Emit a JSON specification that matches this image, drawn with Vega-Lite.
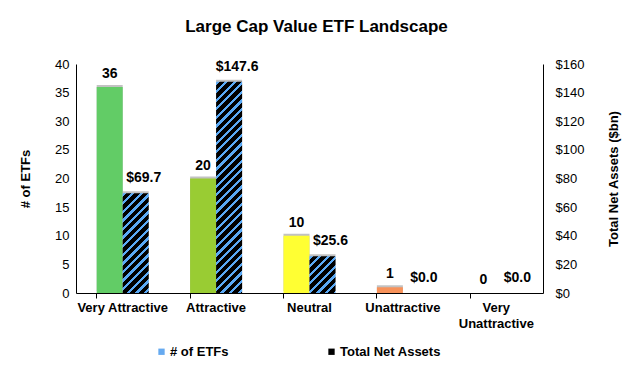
{
  "$schema": "https://vega.github.io/schema/vega-lite/v6.json",
  "width": 467,
  "height": 229,
  "autosize": "none",
  "padding": {"left": 76, "top": 64, "right": 87, "bottom": 74},
  "background": "white",
  "config": {"view": {"stroke": null}, "font": "Liberation Sans", "axis": {"grid": false}},
  "title": {"text": "Large Cap Value ETF Landscape", "font": "Liberation Sans", "fontSize": 17, "fontWeight": "bold", "color": "black", "anchor": "middle", "offset": 22, "dx": 7},
  "data": {"values": [
    {"category": "Very Attractive", "series": "# of ETFs", "value": 36},
    {"category": "Attractive", "series": "# of ETFs", "value": 20},
    {"category": "Neutral", "series": "# of ETFs", "value": 10},
    {"category": "Unattractive", "series": "# of ETFs", "value": 1},
    {"category": "Very Unattractive", "series": "# of ETFs", "value": 0},
    {"category": "Very Attractive", "series": "Total Net Assets", "value": 69.7},
    {"category": "Attractive", "series": "Total Net Assets", "value": 147.6},
    {"category": "Neutral", "series": "Total Net Assets", "value": 25.6},
    {"category": "Unattractive", "series": "Total Net Assets", "value": 0.0},
    {"category": "Very Unattractive", "series": "Total Net Assets", "value": 0.0}
  ]},
  "layer": [
    {
      "transform": [{"filter": "datum.series === '# of ETFs'"}],
      "encoding": {
        "x": {"field": "category", "type": "nominal", "sort": ["Very Attractive", "Attractive", "Neutral", "Unattractive", "Very Unattractive"], "scale": {"paddingInner": 0.443, "paddingOuter": 0.2215},
          "axis": {"title": null, "labelFont": "Liberation Sans", "labelFontWeight": "bold", "labelFontSize": 13, "labelColor": "black", "labelAngle": 0, "domainColor": "black", "tickColor": "black", "tickSize": 5, "bandPosition": 0, "labelPadding": 3, "labelLineHeight": 16, "labelLimit": 200, "labelExpr": "datum.value === 'Very Unattractive' ? ['Very', 'Unattractive'] : datum.value"}},
        "xOffset": {"field": "series", "type": "nominal", "scale": {"domain": ["# of ETFs", "Total Net Assets"], "paddingInner": 0, "paddingOuter": 0}},
        "y": {"field": "value", "type": "quantitative", "scale": {"domain": [0, 40], "nice": false},
          "axis": {"orient": "left", "title": "# of ETFs", "titleFont": "Liberation Sans", "titleFontSize": 13, "titleFontWeight": "bold", "titleColor": "black", "titlePadding": 22, "labelFont": "Liberation Sans", "labelFontSize": 13, "labelColor": "black", "values": [0, 5, 10, 15, 20, 25, 30, 35, 40], "ticks": false, "labelPadding": 7, "domainColor": "black"}}
      },
      "layer": [
        {"mark": {"type": "bar", "fill": "#9a9a9a", "opacity": 0.6, "xOffset": 3, "x2Offset": 3, "yOffset": -2}},
        {"mark": {"type": "bar", "opacity": 0},
          "encoding": {"color": {"field": "series", "type": "nominal", "scale": {"domain": ["# of ETFs", "Total Net Assets"], "range": ["#66aaf0", "#000000"]},
            "legend": {"orient": "none", "legendX": 79, "legendY": 281, "direction": "horizontal", "title": null, "symbolType": "square", "symbolSize": 40, "labelFont": "Liberation Sans", "labelFontSize": 13, "labelFontWeight": "bold", "labelColor": "black", "columnPadding": 96, "symbolOpacity": 1, "labelOffset": 2,
              "encode": {"symbols": {"update": {"opacity": {"value": 1}, "strokeWidth": {"value": 0}, "fill": [
                {"test": "datum.value === 'Total Net Assets'", "value": {"gradient": "linear", "x1": 0, "y1": 0, "x2": 1, "y2": 1, "stops": [{"offset": 0, "color": "#000000"}, {"offset": 0.55, "color": "#000000"}, {"offset": 0.55, "color": "#5aa9f5"}, {"offset": 1, "color": "#5aa9f5"}]}},
                {"value": "#66aaf0"}
              ]}}}}}}},
        {"mark": {"type": "bar"},
          "encoding": {"fill": {"field": "category", "type": "nominal", "scale": {"domain": ["Very Attractive", "Attractive", "Neutral", "Unattractive", "Very Unattractive"], "range": ["#62cc66", "#99cc33", "#ffff33", "#f7925a", "#ff3333"]}, "legend": null}}},
        {"mark": {"type": "text", "font": "Liberation Sans", "fontSize": 14, "fontWeight": "bold", "color": "black", "baseline": "alphabetic", "dy": -9},
          "encoding": {"text": {"field": "value", "type": "quantitative", "format": "d"}}}
      ]
    },
    {
      "transform": [{"filter": "datum.series === 'Total Net Assets'"}],
      "encoding": {
        "x": {"field": "category", "type": "nominal", "sort": ["Very Attractive", "Attractive", "Neutral", "Unattractive", "Very Unattractive"], "scale": {"paddingInner": 0.443, "paddingOuter": 0.2215},
          "axis": {"title": null, "labelFont": "Liberation Sans", "labelFontWeight": "bold", "labelFontSize": 13, "labelColor": "black", "labelAngle": 0, "domainColor": "black", "tickColor": "black", "tickSize": 5, "bandPosition": 0, "labelPadding": 3, "labelLineHeight": 16, "labelLimit": 200, "labelExpr": "datum.value === 'Very Unattractive' ? ['Very', 'Unattractive'] : datum.value"}},
        "xOffset": {"field": "series", "type": "nominal", "scale": {"domain": ["# of ETFs", "Total Net Assets"], "paddingInner": 0, "paddingOuter": 0}},
        "y": {"field": "value", "type": "quantitative", "scale": {"domain": [0, 160], "nice": false},
          "axis": {"orient": "right", "title": "Total Net Assets ($bn)", "titleAngle": 270, "titleFont": "Liberation Sans", "titleFontSize": 13, "titleFontWeight": "bold", "titleColor": "black", "titlePadding": 37, "labelFont": "Liberation Sans", "labelFontSize": 13, "labelColor": "black", "format": "$d", "values": [0, 20, 40, 60, 80, 100, 120, 140, 160], "ticks": false, "labelPadding": 12, "domainColor": "black"}}
      },
      "layer": [
        {"mark": {"type": "bar", "fill": "#9a9a9a", "opacity": 0.6, "xOffset": 3, "x2Offset": 3, "yOffset": -2}},
        {"transform": [{"filter": "datum.category === 'Very Attractive'"}],
          "mark": {"type": "bar", "fill": {"gradient": "linear", "x1": 0, "y1": 0, "x2": 0.3077, "y2": 1.1805, "stops": [
            {"offset": 0, "color": "#5aa9f5"}, {"offset": 0.026, "color": "#5aa9f5"}, {"offset": 0.026, "color": "#000000"}, {"offset": 0.0684, "color": "#000000"},
            {"offset": 0.0684, "color": "#5aa9f5"}, {"offset": 0.0944, "color": "#5aa9f5"}, {"offset": 0.0944, "color": "#000000"}, {"offset": 0.1368, "color": "#000000"},
            {"offset": 0.1368, "color": "#5aa9f5"}, {"offset": 0.1628, "color": "#5aa9f5"}, {"offset": 0.1628, "color": "#000000"}, {"offset": 0.2051, "color": "#000000"},
            {"offset": 0.2051, "color": "#5aa9f5"}, {"offset": 0.2311, "color": "#5aa9f5"}, {"offset": 0.2311, "color": "#000000"}, {"offset": 0.2735, "color": "#000000"},
            {"offset": 0.2735, "color": "#5aa9f5"}, {"offset": 0.2995, "color": "#5aa9f5"}, {"offset": 0.2995, "color": "#000000"}, {"offset": 0.3419, "color": "#000000"},
            {"offset": 0.3419, "color": "#5aa9f5"}, {"offset": 0.3679, "color": "#5aa9f5"}, {"offset": 0.3679, "color": "#000000"}, {"offset": 0.4103, "color": "#000000"},
            {"offset": 0.4103, "color": "#5aa9f5"}, {"offset": 0.4363, "color": "#5aa9f5"}, {"offset": 0.4363, "color": "#000000"}, {"offset": 0.4787, "color": "#000000"},
            {"offset": 0.4787, "color": "#5aa9f5"}, {"offset": 0.5047, "color": "#5aa9f5"}, {"offset": 0.5047, "color": "#000000"}, {"offset": 0.547, "color": "#000000"},
            {"offset": 0.547, "color": "#5aa9f5"}, {"offset": 0.573, "color": "#5aa9f5"}, {"offset": 0.573, "color": "#000000"}, {"offset": 0.6154, "color": "#000000"},
            {"offset": 0.6154, "color": "#5aa9f5"}, {"offset": 0.6414, "color": "#5aa9f5"}, {"offset": 0.6414, "color": "#000000"}, {"offset": 0.6838, "color": "#000000"},
            {"offset": 0.6838, "color": "#5aa9f5"}, {"offset": 0.7098, "color": "#5aa9f5"}, {"offset": 0.7098, "color": "#000000"}, {"offset": 0.7522, "color": "#000000"},
            {"offset": 0.7522, "color": "#5aa9f5"}, {"offset": 0.7782, "color": "#5aa9f5"}, {"offset": 0.7782, "color": "#000000"}, {"offset": 0.8206, "color": "#000000"},
            {"offset": 0.8206, "color": "#5aa9f5"}, {"offset": 0.8466, "color": "#5aa9f5"}, {"offset": 0.8466, "color": "#000000"}, {"offset": 0.8889, "color": "#000000"},
            {"offset": 0.8889, "color": "#5aa9f5"}, {"offset": 0.9149, "color": "#5aa9f5"}, {"offset": 0.9149, "color": "#000000"}, {"offset": 0.9573, "color": "#000000"},
            {"offset": 0.9573, "color": "#5aa9f5"}, {"offset": 0.9833, "color": "#5aa9f5"}, {"offset": 0.9833, "color": "#000000"}, {"offset": 1, "color": "#000000"}
          ]}}},
        {"transform": [{"filter": "datum.category === 'Attractive'"}],
          "mark": {"type": "bar", "fill": {"gradient": "linear", "x1": 0, "y1": 0, "x2": 0.13616, "y2": 1.10632, "stops": [
            {"offset": 0, "color": "#5aa9f5"}, {"offset": 0.0138, "color": "#5aa9f5"}, {"offset": 0.0138, "color": "#000000"}, {"offset": 0.0362, "color": "#000000"},
            {"offset": 0.0362, "color": "#5aa9f5"}, {"offset": 0.05, "color": "#5aa9f5"}, {"offset": 0.05, "color": "#000000"}, {"offset": 0.0725, "color": "#000000"},
            {"offset": 0.0725, "color": "#5aa9f5"}, {"offset": 0.0863, "color": "#5aa9f5"}, {"offset": 0.0863, "color": "#000000"}, {"offset": 0.1087, "color": "#000000"},
            {"offset": 0.1087, "color": "#5aa9f5"}, {"offset": 0.1225, "color": "#5aa9f5"}, {"offset": 0.1225, "color": "#000000"}, {"offset": 0.145, "color": "#000000"},
            {"offset": 0.145, "color": "#5aa9f5"}, {"offset": 0.1588, "color": "#5aa9f5"}, {"offset": 0.1588, "color": "#000000"}, {"offset": 0.1812, "color": "#000000"},
            {"offset": 0.1812, "color": "#5aa9f5"}, {"offset": 0.195, "color": "#5aa9f5"}, {"offset": 0.195, "color": "#000000"}, {"offset": 0.2175, "color": "#000000"},
            {"offset": 0.2175, "color": "#5aa9f5"}, {"offset": 0.2313, "color": "#5aa9f5"}, {"offset": 0.2313, "color": "#000000"}, {"offset": 0.2537, "color": "#000000"},
            {"offset": 0.2537, "color": "#5aa9f5"}, {"offset": 0.2675, "color": "#5aa9f5"}, {"offset": 0.2675, "color": "#000000"}, {"offset": 0.29, "color": "#000000"},
            {"offset": 0.29, "color": "#5aa9f5"}, {"offset": 0.3038, "color": "#5aa9f5"}, {"offset": 0.3038, "color": "#000000"}, {"offset": 0.3262, "color": "#000000"},
            {"offset": 0.3262, "color": "#5aa9f5"}, {"offset": 0.34, "color": "#5aa9f5"}, {"offset": 0.34, "color": "#000000"}, {"offset": 0.3625, "color": "#000000"},
            {"offset": 0.3625, "color": "#5aa9f5"}, {"offset": 0.3763, "color": "#5aa9f5"}, {"offset": 0.3763, "color": "#000000"}, {"offset": 0.3987, "color": "#000000"},
            {"offset": 0.3987, "color": "#5aa9f5"}, {"offset": 0.4125, "color": "#5aa9f5"}, {"offset": 0.4125, "color": "#000000"}, {"offset": 0.435, "color": "#000000"},
            {"offset": 0.435, "color": "#5aa9f5"}, {"offset": 0.4488, "color": "#5aa9f5"}, {"offset": 0.4488, "color": "#000000"}, {"offset": 0.4712, "color": "#000000"},
            {"offset": 0.4712, "color": "#5aa9f5"}, {"offset": 0.485, "color": "#5aa9f5"}, {"offset": 0.485, "color": "#000000"}, {"offset": 0.5075, "color": "#000000"},
            {"offset": 0.5075, "color": "#5aa9f5"}, {"offset": 0.5213, "color": "#5aa9f5"}, {"offset": 0.5213, "color": "#000000"}, {"offset": 0.5437, "color": "#000000"},
            {"offset": 0.5437, "color": "#5aa9f5"}, {"offset": 0.5575, "color": "#5aa9f5"}, {"offset": 0.5575, "color": "#000000"}, {"offset": 0.58, "color": "#000000"},
            {"offset": 0.58, "color": "#5aa9f5"}, {"offset": 0.5938, "color": "#5aa9f5"}, {"offset": 0.5938, "color": "#000000"}, {"offset": 0.6162, "color": "#000000"},
            {"offset": 0.6162, "color": "#5aa9f5"}, {"offset": 0.63, "color": "#5aa9f5"}, {"offset": 0.63, "color": "#000000"}, {"offset": 0.6525, "color": "#000000"},
            {"offset": 0.6525, "color": "#5aa9f5"}, {"offset": 0.6663, "color": "#5aa9f5"}, {"offset": 0.6663, "color": "#000000"}, {"offset": 0.6887, "color": "#000000"},
            {"offset": 0.6887, "color": "#5aa9f5"}, {"offset": 0.7025, "color": "#5aa9f5"}, {"offset": 0.7025, "color": "#000000"}, {"offset": 0.725, "color": "#000000"},
            {"offset": 0.725, "color": "#5aa9f5"}, {"offset": 0.7388, "color": "#5aa9f5"}, {"offset": 0.7388, "color": "#000000"}, {"offset": 0.7612, "color": "#000000"},
            {"offset": 0.7612, "color": "#5aa9f5"}, {"offset": 0.775, "color": "#5aa9f5"}, {"offset": 0.775, "color": "#000000"}, {"offset": 0.7975, "color": "#000000"},
            {"offset": 0.7975, "color": "#5aa9f5"}, {"offset": 0.8113, "color": "#5aa9f5"}, {"offset": 0.8113, "color": "#000000"}, {"offset": 0.8337, "color": "#000000"},
            {"offset": 0.8337, "color": "#5aa9f5"}, {"offset": 0.8475, "color": "#5aa9f5"}, {"offset": 0.8475, "color": "#000000"}, {"offset": 0.87, "color": "#000000"},
            {"offset": 0.87, "color": "#5aa9f5"}, {"offset": 0.8838, "color": "#5aa9f5"}, {"offset": 0.8838, "color": "#000000"}, {"offset": 0.9062, "color": "#000000"},
            {"offset": 0.9062, "color": "#5aa9f5"}, {"offset": 0.92, "color": "#5aa9f5"}, {"offset": 0.92, "color": "#000000"}, {"offset": 0.9425, "color": "#000000"},
            {"offset": 0.9425, "color": "#5aa9f5"}, {"offset": 0.9563, "color": "#5aa9f5"}, {"offset": 0.9563, "color": "#000000"}, {"offset": 0.9787, "color": "#000000"},
            {"offset": 0.9787, "color": "#5aa9f5"}, {"offset": 0.9925, "color": "#5aa9f5"}, {"offset": 0.9925, "color": "#000000"}, {"offset": 1, "color": "#000000"}
          ]}}},
        {"transform": [{"filter": "datum.category === 'Neutral'"}],
          "mark": {"type": "bar", "fill": {"gradient": "linear", "x1": 0, "y1": 0, "x2": 0.80686, "y2": 1.13705, "stops": [
            {"offset": 0, "color": "#5aa9f5"}, {"offset": 0.0522, "color": "#5aa9f5"}, {"offset": 0.0522, "color": "#000000"}, {"offset": 0.1373, "color": "#000000"},
            {"offset": 0.1373, "color": "#5aa9f5"}, {"offset": 0.1895, "color": "#5aa9f5"}, {"offset": 0.1895, "color": "#000000"}, {"offset": 0.2746, "color": "#000000"},
            {"offset": 0.2746, "color": "#5aa9f5"}, {"offset": 0.3268, "color": "#5aa9f5"}, {"offset": 0.3268, "color": "#000000"}, {"offset": 0.4119, "color": "#000000"},
            {"offset": 0.4119, "color": "#5aa9f5"}, {"offset": 0.4641, "color": "#5aa9f5"}, {"offset": 0.4641, "color": "#000000"}, {"offset": 0.5492, "color": "#000000"},
            {"offset": 0.5492, "color": "#5aa9f5"}, {"offset": 0.6013, "color": "#5aa9f5"}, {"offset": 0.6013, "color": "#000000"}, {"offset": 0.6865, "color": "#000000"},
            {"offset": 0.6865, "color": "#5aa9f5"}, {"offset": 0.7386, "color": "#5aa9f5"}, {"offset": 0.7386, "color": "#000000"}, {"offset": 0.8237, "color": "#000000"},
            {"offset": 0.8237, "color": "#5aa9f5"}, {"offset": 0.8759, "color": "#5aa9f5"}, {"offset": 0.8759, "color": "#000000"}, {"offset": 0.961, "color": "#000000"},
            {"offset": 0.961, "color": "#5aa9f5"}, {"offset": 1, "color": "#5aa9f5"}
          ]}}},
        {"mark": {"type": "text", "font": "Liberation Sans", "fontSize": 14, "fontWeight": "bold", "color": "black", "baseline": "alphabetic", "dy": -11, "dx": 8},
          "encoding": {"text": {"field": "value", "type": "quantitative", "format": "$.1f"}}}
      ]
    }
  ],
  "resolve": {"scale": {"y": "independent"}}
}
